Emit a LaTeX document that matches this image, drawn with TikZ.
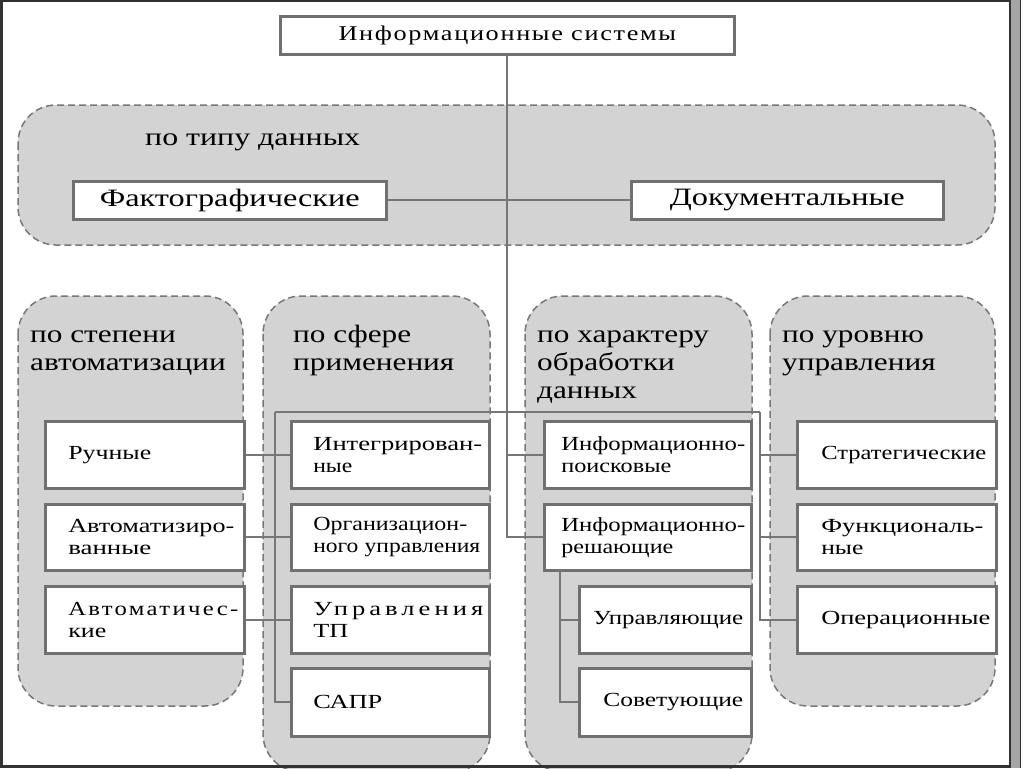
\documentclass[tikz,border=0pt]{standalone}
\usepackage{graphicx}
\usepackage{fontspec}
\setmainfont{Liberation Serif}[FakeStretch=1.25]
\definecolor{pfill}{RGB}{211,211,211}
\definecolor{pline}{RGB}{120,120,120}
\definecolor{bline}{RGB}{112,112,112}
\definecolor{cline}{RGB}{118,118,118}
\definecolor{frame}{RGB}{50,50,50}
\definecolor{barfill}{RGB}{165,165,165}
\newcommand{\fw}[2]{\resizebox{#1pt}{\height}{#2}}
\begin{document}
\begin{tikzpicture}[x=1pt,y=-1pt,
  panel/.style={draw=pline, fill=pfill, dash pattern=on 7pt off 4pt, line width=1.5pt, rounded corners=38pt},
  box/.style={draw=bline, fill=white, line width=2.6pt, anchor=north west, inner ysep=0pt, align=left,
    font=\fontsize{20}{22}\selectfont},
  c1/.style={box, minimum width=199pt, text width=153pt, inner xsep=23pt},
  c2/.style={box, minimum width=198pt, text width=154pt, inner xsep=22pt},
  c3/.style={box, minimum width=207pt, text width=173pt, inner xsep=17pt},
  c3s/.style={box, minimum width=172pt, text width=156pt, inner xsep=8pt, align=right},
  c4/.style={box, minimum width=199pt, text width=151pt, inner xsep=24pt},
  bigbox/.style={draw=bline, fill=white, line width=2.6pt, anchor=north west, inner sep=0pt,
    font=\fontsize{25}{28}\selectfont},
  conn/.style={draw=cline, line width=2.2pt},
  glabel/.style={anchor=north west, inner sep=0pt, align=left, font=\fontsize{25}{28}\selectfont}]
\useasboundingbox (0,0) rectangle (1024,768);
\fill[white] (0,0) rectangle (1024,768);

% panels
\draw[panel] (18,105) rectangle (995,245);
\draw[panel] (18,296) rectangle (243,706);
\draw[panel] (263,296) rectangle (490,772);
\draw[panel] (525,296) rectangle (752,772);
\draw[panel] (770,296) rectangle (995,706);

% panel labels
\node[glabel, anchor=base west] (ltype) at (145,145) {\fw{215}{по типу данных}};
\node[glabel] (lauto) at (30,322) {\rule{0pt}{20pt}по степени\\автоматизации};
\node[glabel] (lsphere) at (293,322) {\rule{0pt}{20pt}по сфере\\применения};
\node[glabel] (lproc) at (537,322) {\rule{0pt}{20pt}по характеру\\обработки\\данных};
\node[glabel] (llevel) at (782,322) {\rule{0pt}{20pt}по уровню\\управления};

% top nodes
\node[bigbox, minimum width=454pt, minimum height=38pt,
  font=\fontsize{21}{24}\selectfont\addfontfeature{LetterSpace=8}] (is) at (279,15) {Информационные системы};
\node[bigbox, minimum width=313pt, minimum height=38pt] (fakt) at (72,180) {\fw{260}{Фактографические}};
\node[bigbox, minimum width=312pt, minimum height=38pt] (doc) at (630,180) {\fw{235}{Документальные}};

% coordinates for buses
\coordinate (busL) at (275,412);
\coordinate (busR) at (760,412);
\coordinate (subtop) at (560,569);

% boxes
\node[c1, minimum height=67pt] (ruch) at (44,420) {\fw{83}{Ручные}};
\node[c1, minimum height=66pt] (avtz) at (44,503) {\fw{166}{Автоматизиро-}\\\fw{83}{ванные}};
\node[c1, minimum height=67pt] (avtch) at (44,585) {\fw{170}{\addfontfeature{LetterSpace=12}Автоматичес-}\\\fw{38}{кие}};

\node[c2, minimum height=67pt] (integ) at (290,420) {\fw{169}{Интегрирован-}\\\fw{39}{ные}};
\node[c2, minimum height=66pt] (org) at (290,503) {\fw{154}{Организацион-}\\\fw{167}{ного управления}};
\node[c2, minimum height=67pt] (utp) at (290,585) {\fw{170}{\addfontfeature{LetterSpace=19}Управления}\\\fw{35}{ТП}};
\node[c2, minimum height=68pt] (sapr) at (290,667) {\fw{69}{САПР}};

\node[c3, minimum height=67pt] (ip) at (543,420) {\fw{184}{Информационно-}\\\fw{110}{поисковые}};
\node[c3, minimum height=66pt] (ir) at (543,503) {\fw{184}{Информационно-}\\\fw{112}{решающие}};
\node[c3s, minimum height=67pt] (upr) at (578,585) {\fw{150}{Управляющие}};
\node[c3s, minimum height=68pt] (sov) at (578,667) {\fw{140}{Советующие}};

\node[c4, minimum height=67pt] (strat) at (796,420) {\fw{165}{Стратегические}};
\node[c4, minimum height=66pt] (func) at (796,503) {\fw{162}{Функциональ-}\\\fw{42}{ные}};
\node[c4, minimum height=67pt] (oper) at (796,585) {\fw{169}{Операционные}};

% connectors
\draw[conn] (is.south) |- (ir.west);
\draw[conn] (fakt.east) -- (doc.west);
\draw[conn] (busL) -- (busR);
\draw[conn] (ip.west) -- (ip.west -| is.south);
\draw[conn] (busL) |- (sapr.west);
\draw[conn] (ruch.east) -- (integ.west);
\draw[conn] (avtz.east) -- (org.west);
\draw[conn] (avtch.east) -- (utp.west);
\draw[conn] (busR) |- (oper.west);
\draw[conn] (busR |- strat.west) -- (strat.west);
\draw[conn] (busR |- func.west) -- (func.west);
\draw[conn] (subtop) |- (sov.west);
\draw[conn] (subtop |- upr.west) -- (upr.west);

% frame
\fill[barfill] (1010,0) rectangle (1021,768);
\draw[frame, line width=1.5pt] (1010,0) -- (1010,768);
\draw[frame, line width=1.5pt] (1020.5,0) -- (1020.5,768);
\draw[frame, line width=3pt] (1.5,0) -- (1.5,766.5) -- (1010,766.5);
\draw[frame, line width=2pt] (0,1) -- (1010,1);
\end{tikzpicture}
\end{document}
